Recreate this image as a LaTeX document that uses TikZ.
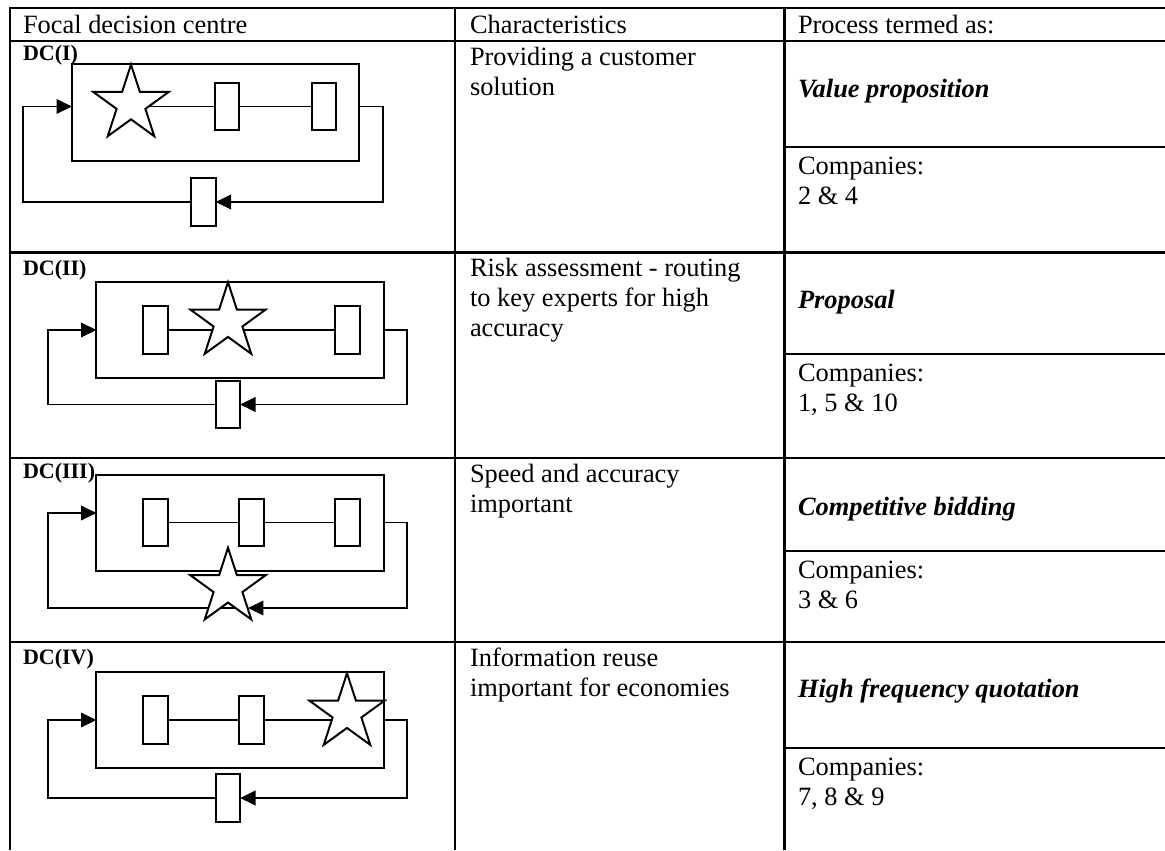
\documentclass[tikz,border=0pt]{standalone}
\usepackage{fontspec}
\setmainfont{Liberation Serif}
\usetikzlibrary{shapes.geometric,arrows.meta}

\begin{document}
\begin{tikzpicture}[x=0.4545pt,y=-0.4545pt,every node/.style={outer sep=0pt,inner sep=0pt}]
\tikzstyle{grid}=[line width=1.2pt]
\tikzstyle{link}=[line width=0.75pt]
\tikzstyle{loop}=[line width=0.9pt,-{Triangle[length=7pt,width=6.6pt]}]
\tikzstyle{frame}=[draw,line width=0.9pt,minimum width=130.5pt,minimum height=43.8pt]
\tikzstyle{unit}=[draw,fill=white,line width=0.9pt,minimum width=11pt,minimum height=21.5pt]
\tikzstyle{focal}=[draw,fill=white,line width=0.9pt,star,star points=5,star point ratio=2.618,minimum size=36pt]
\tikzstyle{dclabel}=[anchor=base west,font=\fontsize{10}{12}\selectfont\bfseries]
\tikzstyle{head}=[anchor=base west,font=\fontsize{12}{13.7}\selectfont]
\tikzstyle{cell}=[anchor=north west,align=left,font=\fontsize{12}{13.7}\selectfont]
\tikzstyle{term}=[anchor=base west,font=\fontsize{12}{13.7}\selectfont\bfseries\itshape]

\useasboundingbox (0,0) rectangle (1165,850);

% table rules
\draw[grid] (10,850) -- (10,8) -- (1165,8);
\draw[grid] (455,8) -- (455,850);
\draw[grid] (784.5,8) -- (784.5,850);
\foreach \y in {41,252.5,458,642} \draw[grid] (10,\y) -- (1165,\y);
\foreach \y in {147,354,551,748} \draw[grid] (784.5,\y) -- (1165,\y);

\node[head] (head_focal) at (23,34) {Focal decision centre};
\node[head] (head_char) at (470,34) {Characteristics};
\node[head] (head_proc) at (798,34) {Process termed as:};

% DC(I)
\node[dclabel] (dc1_label) at (23,60) {DC(I)};
\node[frame] (dc1_frame) at (215.5,112.5) {};
\node[unit] (dc1_box2) at (227,106.5) {};
\node[unit] (dc1_box3) at (324,106.5) {};
\node[unit] (dc1_fb) at (203.5,202) {};
\coordinate (dc1_hub) at (131,106.5);
\draw[link] (dc1_hub) -- (dc1_box2) -- (dc1_box3);
\node[focal] (dc1_star) at (131,104.2) {};
\draw[loop] (dc1_frame.east |- dc1_box3) -- (383,106.5) |- (dc1_fb);
\draw[loop] (dc1_fb) -| (23,106.5) -- (dc1_frame.west |- dc1_box2);

% DC(II)
\node[dclabel] (dc2_label) at (23,275) {DC(II)};
\node[frame] (dc2_frame) at (240,330) {};
\node[unit] (dc2_box1) at (155.5,330) {};
\node[unit] (dc2_box3) at (347.5,330) {};
\node[unit] (dc2_fb) at (228,404.5) {};
\draw[link] (dc2_box1) -- (dc2_box3);
\node[focal] (dc2_star) at (228,321.8) {};
\draw[loop] (dc2_frame.east |- dc2_box3) -- (407,330) |- (dc2_fb);
\draw[loop] (dc2_fb) -| (48,330) -- (dc2_frame.west |- dc2_box1);

% DC(III)
\node[dclabel] (dc3_label) at (23,478) {DC(III)};
\node[frame] (dc3_frame) at (240,523) {};
\node[unit] (dc3_box1) at (155.5,522.5) {};
\node[unit] (dc3_box2) at (251.5,522.5) {};
\node[unit] (dc3_box3) at (347.5,522.5) {};
\draw[link] (dc3_box1) -- (dc3_box2) -- (dc3_box3);
\coordinate (dc3_tip) at (248,608);
\coordinate (dc3_in) at (48,513);
\draw[loop] (dc3_tip) -| (dc3_in) -- (dc3_frame.west |- dc3_in);
\node[focal] (dc3_star) at (228,587.4) {};
\draw[loop] (dc3_frame.east |- dc3_box3) -- (407,522.5) |- (dc3_tip);

% DC(IV)
\node[dclabel] (dc4_label) at (23,664) {DC(IV)};
\node[frame] (dc4_frame) at (240,720) {};
\node[unit] (dc4_box1) at (155.5,720) {};
\node[unit] (dc4_box2) at (251.5,720) {};
\node[unit] (dc4_fb) at (228,798) {};
\coordinate (dc4_hub) at (347,720);
\draw[link] (dc4_box1) -- (dc4_box2) -- (dc4_hub);
\node[focal] (dc4_star) at (347,712.8) {};
\draw[loop] (dc4_frame.east |- dc4_box2) -- (407,720) |- (dc4_fb);
\draw[loop] (dc4_fb) -| (48,720) -- (dc4_frame.west |- dc4_box1);

% text columns
\node[cell] (dc1_char) at (470,47) {Providing a customer\\solution};
\node[term] (dc1_term) at (798,97) {Value proposition};
\node[cell] (dc1_firms) at (798,157) {Companies:\\2 \& 4};
\node[cell] (dc2_char) at (470,258) {Risk assessment - routing\\to key experts for high\\accuracy};
\node[term] (dc2_term) at (798,308) {Proposal};
\node[cell] (dc2_firms) at (798,364) {Companies:\\1, 5 \& 10};
\node[cell] (dc3_char) at (470,464) {Speed and accuracy\\important};
\node[term] (dc3_term) at (798,515) {Competitive bidding};
\node[cell] (dc3_firms) at (798,561) {Companies:\\3 \& 6};
\node[cell] (dc4_char) at (470,648) {Information reuse\\important for economies};
\node[term] (dc4_term) at (798,697) {High frequency quotation};
\node[cell] (dc4_firms) at (798,758) {Companies:\\7, 8 \& 9};

\end{tikzpicture}
\end{document}
